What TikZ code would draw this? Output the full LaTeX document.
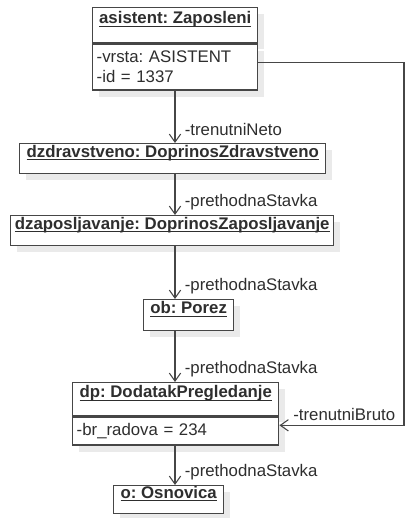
\documentclass[tikz,border=0pt]{standalone}
\usepackage{fontspec}
\setmainfont{Liberation Sans}
\usepackage{tikz}
\usetikzlibrary{arrows.meta, positioning, calc, shadows}
\definecolor{umlline}{HTML}{464646}
\definecolor{umltext}{HTML}{2E2E2E}
\definecolor{umlshadow}{HTML}{EAEAEA}
\frenchspacing

\newcommand{\objname}[1]{\underline{\smash{\textbf{#1}}}}

\begin{document}
\begin{tikzpicture}[
    x=0.75pt, y=-0.75pt,
    >={Straight Barb[length=6pt, width=8.5pt]},
    every node/.style={font=\fontsize{12.6}{15}\selectfont, text=umltext},
    objbox/.style={
      rectangle, draw=umlline, line width=1.1pt, fill=white,
      anchor=north west, inner sep=3pt,
      drop shadow={shadow xshift=5pt, shadow yshift=-5pt,
        fill=umlshadow, opacity=1}
    },
    attrbox/.style={
      objbox, align=left, inner xsep=3pt
    },
    assoc/.style={->, line width=0.8pt, draw=umlline},
    rolelabel/.style={anchor=west, inner sep=0pt, xshift=7pt, yshift=10pt}
  ]

  \useasboundingbox (0,0) rectangle (406,518);
  \coordinate (spine) at (175,0);
  \coordinate (brutoside) at (404,0);

  % ===== objects =====
  \node[objbox, minimum width=123.75pt, minimum height=26.25pt] (asistent)
    at (92,7) {\objname{asistent: Zaposleni}};
  \node[attrbox, text width=117.75pt, minimum height=34.5pt] (asistentAttr)
    at (asistent.south west) {-vrsta: ASISTENT\\-id = 1337\\[-3pt]};

  \node[objbox, minimum width=229.5pt, minimum height=22.5pt] (zdrav)
    at (19,143) {\objname{dzdravstveno: DoprinosZdravstveno}};

  \node[objbox, minimum width=242.25pt, minimum height=22.5pt] (zapos)
    at (10,215) {\objname{dzaposljavanje: DoprinosZaposljavanje}};

  \node[objbox, minimum width=67.5pt, minimum height=23.25pt] (porez)
    at (143,299) {\objname{ob: Porez}};

  \node[objbox, minimum width=154.5pt, minimum height=24.75pt] (dp)
    at (72,382) {\objname{dp: DodatakPregledanje}};
  \node[attrbox, text width=148.5pt, minimum height=21pt] (dpAttr)
    at (dp.south west) {-br\_radova = 234};

  \node[objbox, minimum width=82.5pt, minimum height=21pt] (osnovica)
    at (113,485) {\objname{o: Osnovica}};

  % ===== links =====
  \draw[assoc] (asistentAttr.south -| spine) -- (zdrav.north -| spine)
    node[rolelabel, pos=1] {-trenutniNeto};
  \draw[assoc] (zdrav.south -| spine) -- (zapos.north -| spine)
    node[rolelabel, pos=1] {-prethodnaStavka};
  \draw[assoc] (zapos.south -| spine) -- (porez.north -| spine)
    node[rolelabel, pos=1] {-prethodnaStavka};
  \draw[assoc] (porez.south -| spine) -- (dp.north -| spine)
    node[rolelabel, pos=1] {-prethodnaStavka};
  \draw[assoc] (dpAttr.south -| spine) -- (osnovica.north -| spine)
    node[rolelabel, pos=1] {-prethodnaStavka};

  \coordinate (brutoStart) at ($(asistentAttr.north east)!0.4!(asistentAttr.south east)$);
  \coordinate (brutoEnd) at ($(dpAttr.north east)!0.3!(dpAttr.south east)$);
  \draw[assoc] (brutoStart) -| (brutoside |- brutoEnd) -- (brutoEnd)
    node[anchor=south west, inner sep=0pt, xshift=10pt, yshift=3pt] {-trenutniBruto};

\end{tikzpicture}
\end{document}
